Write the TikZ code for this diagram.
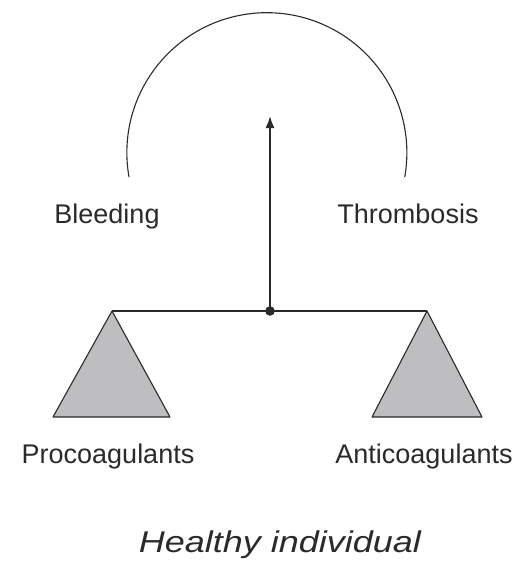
\documentclass[tikz,border=0pt]{standalone}
\usepackage{fontspec}
\setmainfont{Liberation Sans}
\usetikzlibrary{arrows.meta}
\definecolor{ink}{HTML}{2A2A2A}
\definecolor{pan}{HTML}{BEBEC0}
\begin{document}
\begin{tikzpicture}[x=1pt,y=-1pt,
  lbl/.style={font=\fontsize{27}{30}\selectfont, text=ink, anchor=base, inner sep=0pt},
  beam/.style={draw=ink, line width=1.8pt},
  panshape/.style={draw=ink, fill=pan, line width=1.1pt, line join=round},
  arcline/.style={draw=ink, line width=1.1pt}]
\useasboundingbox (0,0) rectangle (522,565);
% coordinates
\coordinate (pivot) at (270,311);
\coordinate (tip) at (270,116);
\coordinate (lend) at (112,311);
\coordinate (rend) at (427,311);
% arc
\draw[arcline] (129,177) arc[start angle=170, end angle=370, radius=140];
% beam
\draw[beam] (lend) -- (rend);
% arrow
\draw[beam, -{Latex[length=12pt,width=9pt]}] (pivot) -- (tip);
\fill[ink] (pivot) circle[radius=4.8];
% pans
\path[panshape] (lend) -- (53,417) -- (170,417) -- cycle;
\path[panshape] (rend) -- (372,417) -- (482,417) -- cycle;
% labels
\node[lbl] (bleed) at (107,223) {Bleeding};
\node[lbl] (thromb) at (408,223) {Thrombosis};
\node[lbl] (pro) at (108,463) {Procoagulants};
\node[lbl] (anti) at (424,463) {Anticoagulants};
\node[lbl, font=\fontsize{30}{34}\selectfont\itshape] (title) at (280,552) {\scalebox{1.2}[1]{Healthy individual}};
\end{tikzpicture}
\end{document}
